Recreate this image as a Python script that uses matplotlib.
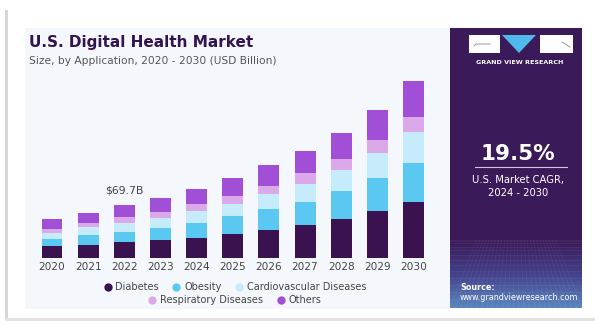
import matplotlib.pyplot as plt
import numpy as np
from matplotlib.colors import LinearSegmentedColormap
from matplotlib.lines import Line2D
from matplotlib.patches import Polygon, Rectangle

W, H = 595, 325

years = ["2020", "2021", "2022", "2023", "2024", "2025",
         "2026", "2027", "2028", "2029", "2030"]
segments = ["Diabetes", "Obesity", "Cardiovascular Diseases",
            "Respiratory Diseases", "Others"]
diabetes = [15.2, 16.6, 20.5, 23.5, 27.0, 31.8, 37.0, 43.6, 51.4, 61.9, 74.1]
obesity = [10.5, 13.5, 14.4, 16.6, 19.2, 23.1, 27.0, 30.5, 36.6, 43.1, 51.4]
cardio = [7.8, 10.5, 11.3, 13.1, 15.7, 15.7, 20.0, 23.5, 27.9, 33.5, 40.1]
respiratory = [5.2, 5.2, 7.4, 7.8, 9.1, 11.3, 11.3, 13.9, 15.2, 17.4, 20.5]
others = [12.2, 13.1, 16.1, 18.3, 20.0, 23.1, 27.0, 29.2, 34.4, 39.2, 47.0]
colors = ["#3b1250", "#5ac8f0", "#c6ecfb", "#dba8e9", "#a24fd7"]
callout_year = "2022"
callout_text = "$69.7B"


def fx(px):
    return px / W


def fy(py):
    return 1 - py / H


def frect(x0, y0, x1, y1, z=-1, **kw):
    return Rectangle((fx(x0), fy(y1)), fx(x1) - fx(x0), fy(y0) - fy(y1),
                     transform=fig.transFigure, zorder=z, **kw)


fig = plt.figure(figsize=(W / 100, H / 100), dpi=100)
fig.patch.set_facecolor("white")

# card shadow and inner light panel
fig.patches.append(frect(5, 10, 8, 320, facecolor="#d6d6d6", edgecolor="none"))
fig.patches.append(frect(5, 318, 595, 321, facecolor="#e2e2e2", edgecolor="none"))
fig.patches.append(frect(25, 28, 450, 309, facecolor="#f4f8fd", edgecolor="none"))

# right panel
fig.patches.append(frect(450, 28, 582, 308, facecolor="#3a1a58", edgecolor="none"))
grad = np.linspace(0, 1, 64).reshape(-1, 1)
gax = fig.add_axes([fx(450), fy(308), fx(582) - fx(450), fy(240) - fy(308)])
gax.set_zorder(1)
gax.imshow(grad, aspect="auto", extent=[0, 1, 0, 1], origin="upper",
           cmap=LinearSegmentedColormap.from_list(
               "g", ["#3a1a58", "#45408a", "#5a86c0"]))
for v in np.linspace(0, 1, 26):
    gax.plot([v, 0.5 + (v - 0.5) * 0.6], [0, 1], color="white", alpha=0.06, lw=0.6)
for h in np.linspace(0, 1, 14) ** 1.6:
    gax.axhline(1 - h, color="white", alpha=0.06, lw=0.6)
gax.set_xlim(0, 1)
gax.set_ylim(0, 1)
gax.axis("off")

# logo
fig.patches.append(frect(469, 35, 500, 53, z=3, facecolor="white", edgecolor="none"))
fig.patches.append(frect(540, 35, 573, 53, z=3, facecolor="white", edgecolor="none"))
fig.patches.append(Polygon([(fx(502), fy(35)), (fx(536), fy(35)), (fx(519), fy(53))],
                           closed=True, transform=fig.transFigure, zorder=3,
                           facecolor="#4fb8ec", edgecolor="none"))
fig.lines.append(Line2D([fx(474), fx(476), fx(490)], [fy(46), fy(44), fy(44)],
                        transform=fig.transFigure, color="#888888", lw=0.6, zorder=4))
fig.lines.append(Line2D([fx(562), fx(570)], [fy(42), fy(47)],
                        transform=fig.transFigure, color="#888888", lw=0.6, zorder=4))
fig.text(fx(520), fy(62), "GRAND VIEW RESEARCH", color="white", fontsize=4.6,
         fontweight="bold", ha="center", va="center", zorder=4)

fig.text(fx(518), fy(154), "19.5%", color="white", fontsize=15.5,
         fontweight="bold", ha="center", va="center", zorder=4)
fig.lines.append(Line2D([fx(475), fx(567)], [fy(167), fy(167)],
                        transform=fig.transFigure, color="#cfc6dc", lw=0.8, zorder=4))
fig.text(fx(518), fy(180), "U.S. Market CAGR,", color="white", fontsize=7.2,
         ha="center", va="center", zorder=4)
fig.text(fx(518), fy(193), "2024 - 2030", color="white", fontsize=7.2,
         ha="center", va="center", zorder=4)
fig.text(fx(460), fy(287), "Source:", color="white", fontsize=5.8,
         fontweight="bold", ha="left", va="center", zorder=4)
fig.text(fx(460), fy(298), "www.grandviewresearch.com", color="white",
         fontsize=5.8, ha="left", va="center", zorder=4)

# titles
fig.text(fx(29), fy(43), "U.S. Digital Health Market", color="#34144f",
         fontsize=11.0, fontweight="heavy", ha="left", va="center")
fig.text(fx(29), fy(61), "Size, by Application, 2020 - 2030 (USD Billion)",
         color="#555555", fontsize=7.7, ha="left", va="center")

# bars
ax = fig.add_axes([fx(30.3), fy(258), fx(435.2) - fx(30.3), fy(68.5) - fy(258)])
ax.set_zorder(2)
ax.set_facecolor("none")
x = np.arange(len(years))
bottom = np.zeros(len(years))
for vals, col, name in zip([diabetes, obesity, cardio, respiratory, others],
                           colors, segments):
    ax.bar(x, vals, 0.58, bottom=bottom, color=col, label=name, linewidth=0)
    bottom += np.array(vals)
ax.set_xlim(-0.6, len(years) - 0.4)
ax.set_ylim(0, 250)
ax.set_xticks(x, years)
ax.tick_params(axis="x", length=0, pad=3, labelsize=7.6, labelcolor="#444444")
ax.set_yticks([])
for s in ax.spines.values():
    s.set_visible(False)

i = years.index(callout_year)
ax.annotate(callout_text, (x[i], bottom[i]), xytext=(0, 7),
            textcoords="offset points", ha="center", va="bottom",
            fontsize=7.8, color="#444444")


# legend in two rows
def handle(c):
    return Line2D([], [], marker="o", ls="none", markersize=6,
                  markerfacecolor=c, markeredgecolor="none")


fig.legend([handle(c) for c in colors[:3]], segments[:3], ncol=3,
           loc="center", bbox_to_anchor=(fx(234), fy(287)), frameon=False,
           fontsize=7.0, handletextpad=0.2, columnspacing=1.2,
           handlelength=1.2, borderpad=0)
fig.legend([handle(c) for c in colors[3:]], segments[3:], ncol=2,
           loc="center", bbox_to_anchor=(fx(234), fy(300)), frameon=False,
           fontsize=7.0, handletextpad=0.2, columnspacing=1.2,
           handlelength=1.2, borderpad=0)
for leg in fig.legends:
    for t in leg.get_texts():
        t.set_color("#444444")

fig.savefig("out.png", dpi=100)
